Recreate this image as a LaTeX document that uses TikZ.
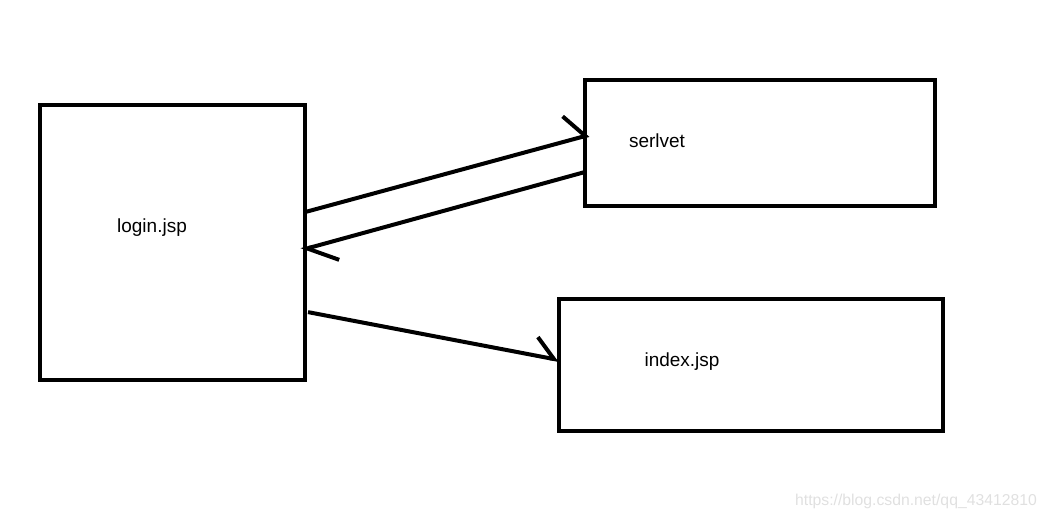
\documentclass[tikz,border=0pt]{standalone}
\usepackage{fontspec}
\setmainfont{Liberation Sans}
\usetikzlibrary{arrows.meta}

\begin{document}
\begin{tikzpicture}[x=0.025cm, y=-0.025cm,
  box/.style={draw, line width=0.1cm, inner sep=0pt, outer sep=0pt},
  label/.style={font=\fontsize{13.5}{16}\selectfont},
  link/.style={line width=0.1cm}]
\useasboundingbox (0,0) rectangle (1048,520);

\node[box, minimum width=6.625cm, minimum height=6.875cm] (login) at (172.5,242.5) {};
\node[box, minimum width=8.75cm, minimum height=3.15cm] (serlvet) at (760,143) {};
\node[box, minimum width=9.6cm, minimum height=3.3cm] (index) at (751,365) {};

\node[label] (loginText) at (152,228) {login.jsp};
\node[label] (serlvetText) at (657,141) {serlvet};
\node[label] (indexText) at (682,362) {index.jsp};

\draw[link, -{Straight Barb[left, angle=112:0.75cm]}] ([yshift=0.76cm]login.east) -- ([xshift=0.1cm, yshift=0.2cm]serlvet.west);
\draw[link, -{Straight Barb[left, angle=70:0.85cm]}] ([yshift=-0.725cm]serlvet.west) -- ([xshift=-0.1cm, yshift=-0.19cm]login.east);
\draw[link, -{Straight Barb[left, angle=86:0.68cm]}] ([xshift=0.075cm, yshift=-1.74cm]login.east) -- ([yshift=0.125cm]index.west);

\node[text=black!12, font=\fontsize{11.2}{13}\selectfont] (mark) at (916,501) {https://blog.csdn.net/qq\_43412810};
\end{tikzpicture}
\end{document}
